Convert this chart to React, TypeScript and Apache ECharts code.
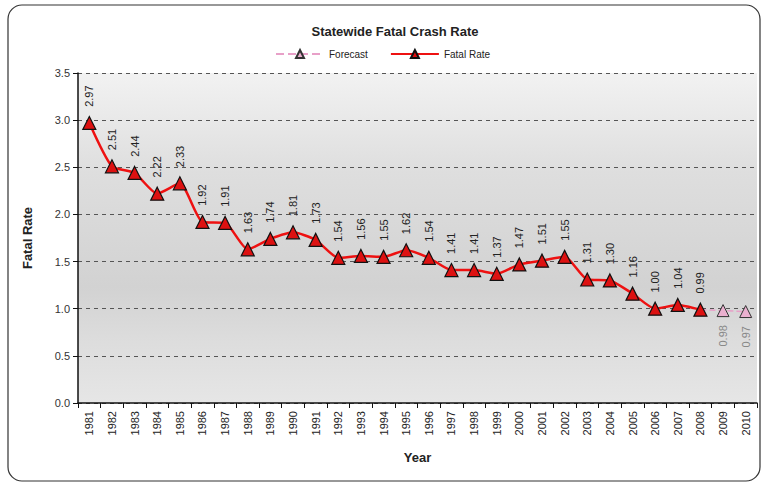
import React, { useEffect, useRef } from "react";
import * as echarts from "echarts";

const years = ["1981","1982","1983","1984","1985","1986","1987","1988","1989","1990","1991","1992","1993","1994","1995","1996","1997","1998","1999","2000","2001","2002","2003","2004","2005","2006","2007","2008","2009","2010"];
const fatalRate: (number | null)[] = [2.97,2.51,2.44,2.22,2.33,1.92,1.91,1.63,1.74,1.81,1.73,1.54,1.56,1.55,1.62,1.54,1.41,1.41,1.37,1.47,1.51,1.55,1.31,1.30,1.16,1.00,1.04,0.99,null,null];
const forecast: (number | null)[] = [null,null,null,null,null,null,null,null,null,null,null,null,null,null,null,null,null,null,null,null,null,null,null,null,null,null,null,0.99,0.98,0.97];
const yTicks = [0, 0.5, 1.0, 1.5, 2.0, 2.5, 3.0, 3.5];

const FONT = "Liberation Sans, Arial, sans-serif";

export default function App() {
  const ref = useRef<HTMLDivElement>(null);
  useEffect(() => {
    if (!ref.current) return;
    const chart = echarts.init(ref.current, null, { renderer: "svg" });
    const forecastData = forecast.map((v, i) =>
      v == null
        ? null
        : i === 27
        ? { value: v, symbol: "none", label: { show: false } }
        : v
    );
    chart.setOption({
      animation: false,
      backgroundColor: "#ffffff",
      textStyle: { fontFamily: FONT },
      title: {
        text: "Statewide Fatal Crash Rate",
        left: 390,
        textAlign: "center",
        top: 20,
        textStyle: { fontSize: 13, fontWeight: "bold", color: "#222", fontFamily: FONT },
      },
      legend: {
        top: 44,
        left: 270,
        itemWidth: 48,
        itemHeight: 10,
        itemGap: 22,
        textStyle: { fontSize: 10, color: "#222", fontFamily: FONT },
        data: ["Forecast", "Fatal Rate"],
      },
      graphic: [
        {
          type: "rect",
          shape: { x: 8, y: 5, width: 752, height: 476, r: 14 },
          style: { fill: "none", stroke: "#333", lineWidth: 1.2 },
          silent: true,
          z: 100,
        },
      ],
      grid: { left: 78, right: 7, top: 73, bottom: 83 },
      xAxis: {
        type: "category",
        data: years,
        boundaryGap: true,
        name: "Year",
        nameLocation: "middle",
        nameGap: 48,
        nameTextStyle: { fontSize: 13, fontWeight: "bold", color: "#222" },
        axisLine: { lineStyle: { color: "#111", width: 1.5 } },
        axisTick: { show: true, alignWithLabel: false, length: 5, lineStyle: { color: "#111" } },
        axisLabel: { rotate: 90, fontSize: 11, color: "#222", margin: 8 },
      },
      yAxis: {
        type: "value",
        min: 0,
        max: 3.5,
        interval: 0.5,
        name: "Fatal Rate",
        nameLocation: "middle",
        nameGap: 44,
        nameTextStyle: { fontSize: 13, fontWeight: "bold", color: "#222" },
        axisLine: { show: true, lineStyle: { color: "#111", width: 1.5 } },
        axisTick: { show: true, length: 5, lineStyle: { color: "#111" } },
        axisLabel: {
          fontSize: 11,
          color: "#333",
          margin: 8,
          formatter: (v: number) => (yTicks.includes(v) ? v.toFixed(1) : ""),
        },
        splitLine: { show: true, lineStyle: { color: "#555", type: [4, 4], width: 1 } },
        splitArea: { show: false },
      },
      series: [
        {
          type: "bar",
          silent: true,
          barGap: "-100%",
          data: [],
        },
        {
          name: "Forecast",
          type: "line",
          data: forecastData,
          symbol: "triangle",
          symbolSize: 12,
          lineStyle: { color: "#e8a0c8", width: 1.5, type: "dashed" },
          itemStyle: { color: "#eab0cf", borderColor: "#333", borderWidth: 1 },
          label: {
            show: true,
            position: "bottom",
            rotate: 90,
            align: "right",
            verticalAlign: "middle",
            distance: 8,
            fontSize: 11,
            color: "#888",
            formatter: (p: any) => Number(p.value).toFixed(2),
          },
          z: 3,
        },
        {
          name: "Fatal Rate",
          type: "line",
          data: fatalRate,
          smooth: 0.2,
          symbol: "triangle",
          symbolSize: 13,
          lineStyle: { color: "#ee1111", width: 2.5 },
          itemStyle: { color: "#dd1111", borderColor: "#111", borderWidth: 1.2 },
          label: {
            show: true,
            position: "top",
            rotate: 90,
            align: "left",
            verticalAlign: "middle",
            distance: 9,
            fontSize: 11,
            color: "#222",
            formatter: (p: any) => Number(p.value).toFixed(2),
          },
          z: 4,
        },
      ],
    });
    // plot background gradient via grid
    chart.setOption({
      grid: {
        show: true,
        borderWidth: 0,
        backgroundColor: new echarts.graphic.LinearGradient(0, 0, 0, 1, [
          { offset: 0, color: "#f2f2f2" },
          { offset: 0.3, color: "#dedede" },
          { offset: 0.65, color: "#d2d2d2" },
          { offset: 0.8, color: "#dcdcdc" },
          { offset: 1, color: "#e6e6e6" },
        ]),
      },
    });
    return () => chart.dispose();
  }, []);
  return (
    <div
      ref={ref}
      style={{ position: "fixed", left: 0, top: 0, width: 764, height: 486 }}
    />
  );
}
